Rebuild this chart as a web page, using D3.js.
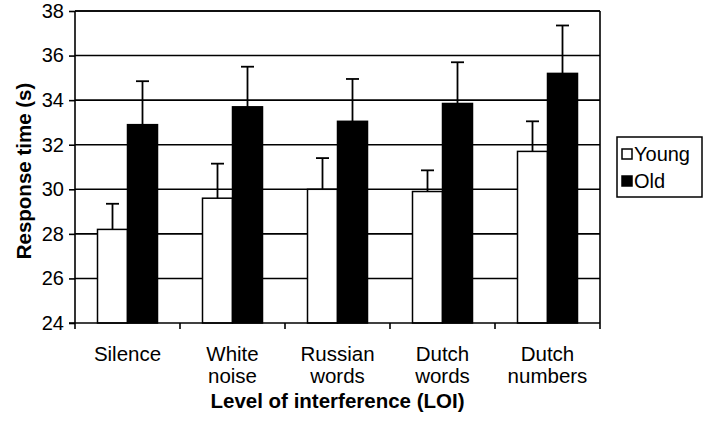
<!DOCTYPE html>
<html><head><meta charset="utf-8">
<script src="https://cdn.jsdelivr.net/npm/d3@7"></script>
<style>body{margin:0;background:#fff}svg{display:block}text{font-family:"Liberation Sans",Arial,sans-serif;fill:#000}</style>
</head><body>
<svg id="c" width="704" height="422"></svg>
<script>
const categories = [["Silence"],["White","noise"],["Russian","words"],["Dutch","words"],["Dutch","numbers"]];
const seriesNames = ["Young","Old"];
const young = [28.2, 29.6, 30.0, 29.9, 31.7];
const youngErr = [1.15, 1.55, 1.4, 0.95, 1.35];
const old = [32.9, 33.7, 33.05, 33.85, 35.2];
const oldErr = [1.95, 1.8, 1.9, 1.85, 2.15];
const yTicks = [24,26,28,30,32,34,36,38];

const svg = d3.select("#c");
const L=75,R=600,T=11,B=323;
const x = d3.scaleBand().domain(d3.range(categories.length)).range([L,R]).paddingInner(0).paddingOuter(0);
const y = d3.scaleLinear().domain([24,38]).range([B,T]);
const bw = x.bandwidth()/3.5;
const off = bw*0.75;

// gridlines
svg.append("g").selectAll("line").data(yTicks.filter(t=>t>24)).join("line")
 .attr("x1",L).attr("x2",R).attr("y1",d=>y(d)).attr("y2",d=>y(d))
 .attr("stroke","#000").attr("stroke-width",1.6);

const series=[{v:young,e:youngErr,fill:"#fff"},{v:old,e:oldErr,fill:"#000"}];
series.forEach((s,si)=>{
  const g=svg.append("g");
  g.selectAll("rect").data(s.v).join("rect")
   .attr("x",(d,i)=>x(i)+off+si*bw).attr("width",bw)
   .attr("y",d=>y(d)).attr("height",d=>B-y(d))
   .attr("fill",s.fill).attr("stroke","#000").attr("stroke-width",1.5);
  const eb=svg.append("g").attr("stroke","#000").attr("stroke-width",1.8);
  s.v.forEach((d,i)=>{
    const cx=x(i)+off+si*bw+bw/2;
    eb.append("line").attr("x1",cx).attr("x2",cx).attr("y1",y(d)).attr("y2",y(d+s.e[i]));
    eb.append("line").attr("x1",cx-6.5).attr("x2",cx+6.5).attr("y1",y(d+s.e[i])).attr("y2",y(d+s.e[i]));
  });
});

// frame
svg.append("line").attr("x1",R).attr("x2",R).attr("y1",T).attr("y2",B).attr("stroke","#000").attr("stroke-width",1.6);
svg.append("line").attr("x1",L).attr("x2",R).attr("y1",T).attr("y2",T).attr("stroke","#000").attr("stroke-width",1.6);

// y axis
const ya=svg.append("g").attr("transform",`translate(${L},0)`)
 .call(d3.axisLeft(y).tickValues(yTicks).tickSize(6).tickPadding(5).tickFormat(d3.format("d")));
ya.selectAll("path,line").attr("stroke","#000").attr("stroke-width",1.6);
ya.select(".domain").attr("d",`M0,${T}V${B}`);
ya.selectAll("text").attr("font-size",20).attr("font-family","Liberation Sans, Arial, sans-serif").attr("fill","#000");

// x axis
const xa=svg.append("g").attr("transform",`translate(0,${B})`);
xa.append("line").attr("x1",L-6).attr("x2",R).attr("stroke","#000").attr("stroke-width",1.6);
xa.selectAll(".tk").data(d3.range(categories.length+1)).join("line").attr("class","tk")
 .attr("x1",i=>L+i*x.step()).attr("x2",i=>L+i*x.step()).attr("y1",0).attr("y2",6)
 .attr("stroke","#000").attr("stroke-width",1.6);
categories.forEach((c,i)=>{
  const t=svg.append("text").attr("text-anchor","middle").attr("font-size",20.5)
   .attr("x",x(i)+x.bandwidth()/2).attr("y",361);
  c.forEach((ln,j)=>t.append("tspan").attr("x",x(i)+x.bandwidth()/2).attr("dy",j?22:0).text(ln));
});

// titles
svg.append("text").attr("text-anchor","middle").attr("font-size",20.5).attr("font-weight","bold")
 .attr("x",(L+R)/2).attr("y",408).text("Level of interference (LOI)");
svg.append("text").attr("text-anchor","middle").attr("font-size",20.5).attr("font-weight","bold")
 .attr("transform","translate(31,171) rotate(-90)").text("Response time (s)");

// legend
const lg=svg.append("g");
lg.append("rect").attr("x",617).attr("y",137).attr("width",85).attr("height",60)
 .attr("fill","#fff").attr("stroke","#000").attr("stroke-width",1.5);
seriesNames.forEach((n,i)=>{
  const cy=154+i*27;
  lg.append("rect").attr("x",622).attr("y",cy-5).attr("width",10).attr("height",10)
   .attr("fill",i?"#000":"#fff").attr("stroke","#000").attr("stroke-width",1.5);
  lg.append("text").attr("x",634).attr("y",cy+7).attr("font-size",20).text(n);
});
</script>
</body></html>
